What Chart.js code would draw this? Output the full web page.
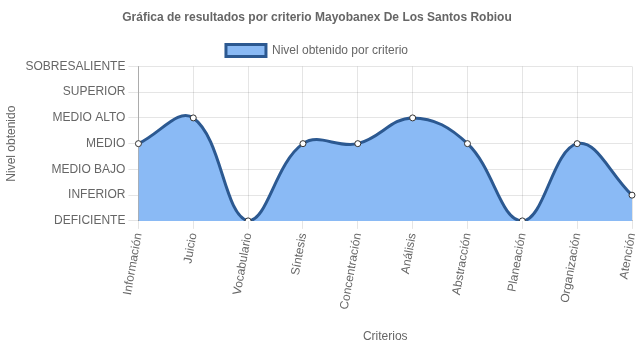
<!DOCTYPE html>
<html>
<head>
<meta charset="utf-8">
<title>Gráfica de resultados</title>
<script src="https://cdn.jsdelivr.net/npm/chart.js@4/dist/chart.umd.min.js"></script>
<style>
  html, body { margin: 0; padding: 0; background: #fff; }
  #wrap { width: 637px; height: 348px; }
</style>
</head>
<body>
<div id="wrap"><canvas id="resultadosChart"></canvas></div>
<script>
// Criterios evaluados y nivel obtenido (índice en nivelLabels)
const criterios = ["Información", "Juicio", "Vocabulario", "Síntesis", "Concentración",
                   "Análisis", "Abstracción", "Planeación", "Organización", "Atención"];
const niveles = [3, 4, 0, 3, 3, 4, 3, 0, 3, 1];
const nivelLabels = ["DEFICIENTE", "INFERIOR", "MEDIO BAJO", "MEDIO", "MEDIO ALTO", "SUPERIOR", "SOBRESALIENTE"];

document.addEventListener("DOMContentLoaded", function () {
    Chart.defaults.font.family = "Arial, 'Liberation Sans', Helvetica, sans-serif";
    Chart.defaults.font.size = 12;
    Chart.defaults.color = "#666";

    const ctx = document.getElementById("resultadosChart").getContext("2d");

    new Chart(ctx, {
        type: "line",
        data: {
            labels: criterios,
            datasets: [{
                label: "Nivel obtenido por criterio",
                data: niveles,
                fill: "origin",
                backgroundColor: "rgb(138, 186, 245)",
                borderColor: "rgb(44, 89, 145)",
                borderWidth: 3,
                tension: 0.4,
                pointRadius: 3,
                pointBorderWidth: 1,
                pointBackgroundColor: "#fff",
                pointBorderColor: "#333"
            }]
        },
        options: {
            responsive: true,
            maintainAspectRatio: false,
            animation: false,
            layout: { padding: { right: 3 } },
            plugins: {
                title: {
                    display: true,
                    text: "Gráfica de resultados por criterio Mayobanex De Los Santos Robiou",
                    font: { weight: "bold", size: 12 },
                    padding: { top: 10, bottom: 10 }
                },
                legend: {
                    labels: { boxWidth: 40, boxHeight: 12 }
                },
                tooltip: { enabled: false }
            },
            scales: {
                x: {
                    grid: { color: "rgba(0,0,0,0.1)", tickLength: 8 },
                    border: { color: "rgba(0,0,0,0.25)" },
                    ticks: { minRotation: 80, maxRotation: 80, autoSkip: false },
                    title: { display: true, text: "Criterios", padding: { top: 16, bottom: 4 } },
                    // la última etiqueta rotada no necesita margen a la derecha
                    afterFit: function (scale) { scale.paddingRight = 0; }
                },
                y: {
                    min: 0,
                    max: 6,
                    grid: { color: "rgba(0,0,0,0.1)", tickLength: 10 },
                    border: { color: "rgba(0,0,0,0.25)" },
                    ticks: {
                        stepSize: 1,
                        callback: function (value) { return nivelLabels[value]; }
                    },
                    title: { display: true, text: "Nivel obtenido" }
                }
            }
        }
    });
});
</script>
</body>
</html>
